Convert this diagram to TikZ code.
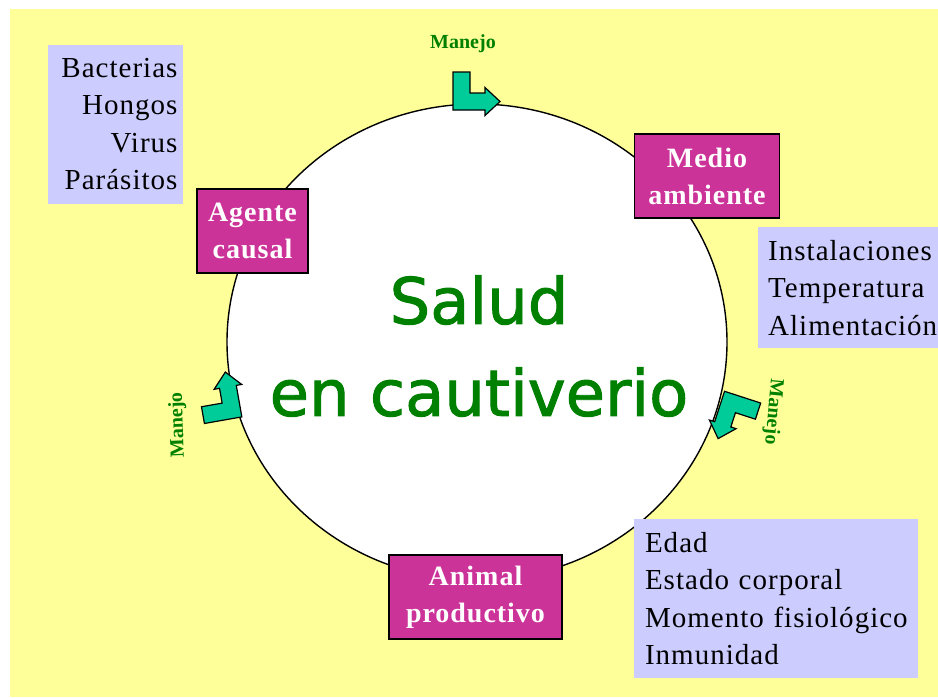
\documentclass[tikz,border=0pt]{standalone}
\usepackage{fontspec}
\setmainfont{Liberation Serif}
\newfontfamily\comicfont[FakeBold=1.5]{DejaVu Sans}
\newfontfamily\anchafont[LetterSpace=3.5]{Liberation Serif}
\definecolor{fondo}{RGB}{255,255,153}
\definecolor{lila}{RGB}{204,204,255}
\definecolor{magenta}{RGB}{204,51,153}
\definecolor{verdeazul}{RGB}{0,204,153}
\definecolor{verde}{RGB}{0,128,0}
\tikzset{
  factor/.style={draw=black, line width=1.3pt, fill=magenta, text=white, align=center,
    font=\anchafont\fontsize{28}{37}\selectfont\bfseries, inner sep=0pt},
  lista/.style={fill=lila, text=black, inner sep=0pt,
    font=\anchafont\fontsize{29}{37.5}\selectfont},
  manejo/.style={text=verde, font=\fontsize{20}{20}\selectfont\bfseries, inner sep=0pt},
  flecha/.style={fill=verdeazul, draw=black, line width=1.2pt, line join=miter}
}
\begin{document}
\begin{tikzpicture}[x=1pt,y=1pt]
\useasboundingbox (0,0) rectangle (938,-697);
\fill [fondo] (10,-9) rectangle (938,-697);
\draw [black, line width=1.4pt, fill=white] (477,-342) ellipse [x radius=250, y radius=238];
% flechas de manejo
\draw [flecha, shift={(461.5,-101.5)}, rotate=0] (-8.5,29.5) -- (8.5,29.5) -- (8.5,8.5) -- (23.5,8.5) -- (23.5,14) -- (38.5,0) -- (23.5,-14) -- (23.5,-8.5) -- (-8.5,-8.5) -- cycle;
\draw [flecha, shift={(232,-410)}, rotate=100] (-8.5,29.5) -- (8.5,29.5) -- (8.5,8.5) -- (23.5,8.5) -- (23.5,14) -- (38.5,0) -- (23.5,-14) -- (23.5,-8.5) -- (-8.5,-8.5) -- cycle;
\draw [flecha, shift={(730,-402)}, rotate=-108] (-8.5,29.5) -- (8.5,29.5) -- (8.5,8.5) -- (23.5,8.5) -- (23.5,14) -- (38.5,0) -- (23.5,-14) -- (23.5,-8.5) -- (-8.5,-8.5) -- cycle;
\node [manejo] (manejoarriba) at (463,-44) {Manejo};
\node [manejo, rotate=92] (manejoizq) at (178,-425) {Manejo};
\node [manejo, rotate=-95] (manejoder) at (773,-412) {Manejo};
% factores
\node [factor, minimum width=145, minimum height=84] (medio) at (707,-176) {Medio\\ambiente};
\node [factor, minimum width=111, minimum height=84] (agente) at (252.5,-231) {Agente\\causal};
\node [factor, minimum width=173, minimum height=84] (animal) at (475.5,-597) {Animal\\productivo};
% listas
\node [lista, minimum width=135, minimum height=159, align=right, text width=124] (agentes) at (115.5,-124) {Bacterias\\Hongos\\Virus\\Parásitos};
\node [lista, anchor=north west, minimum width=200, minimum height=121, align=left, text width=190, inner xsep=10] (ambiente) at (758,-227) {Instalaciones\\Temperatura\\Alimentación};
\node [lista, minimum width=284, minimum height=159, align=left, text width=262] (animales) at (776,-598.5) {Edad\\Estado corporal\\Momento fisiológico\\Inmunidad};
% centro
\node [text=verde, align=center, font=\comicfont\fontsize{64}{92}\selectfont] (salud) at (479,-346) {Salud\\en cautiverio};
\end{tikzpicture}
\end{document}
